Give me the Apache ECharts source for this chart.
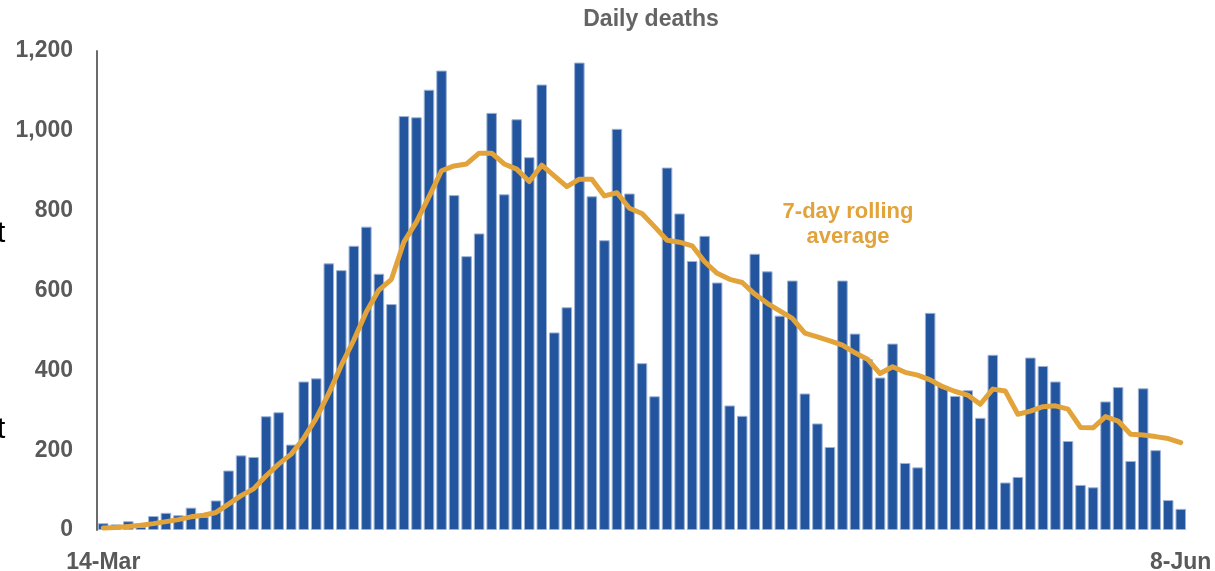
<!DOCTYPE html>
<html>
<head>
<meta charset="utf-8">
<script src="https://cdn.jsdelivr.net/npm/echarts@6/dist/echarts.min.js"></script>
<style>
html,body{margin:0;padding:0;background:#fff;}
#chart{width:1215px;height:571px;}
</style>
</head>
<body>
<div id="chart"></div>
<script>
// 87 days: 14-Mar to 8-Jun
const startLabel = '14-Mar';
const endLabel = '8-Jun';
const dailyDeaths = [
  17, 14, 22, 8, 35, 43, 37, 56, 33, 74,
  149, 187, 183, 285, 295, 214, 372, 380, 668, 651,
  712, 760, 642, 566, 1037, 1034, 1103, 1151, 839, 686,
  743, 1045, 841, 1029, 934, 1116, 495, 558, 1171, 836,
  726, 1005, 843, 418, 335, 908, 793, 674, 737, 620,
  312, 286, 692, 648, 537, 625, 342, 267, 208, 625,
  492, 428, 382, 467, 168, 157, 544, 361, 336, 350,
  281, 439, 119, 133, 432, 411, 372, 223, 113, 107,
  322, 358, 173, 355, 200, 75, 53
];
const rollingAvg = [
  5, 6, 9, 12, 16, 21, 26, 33, 37, 44,
  65, 86, 103, 136, 165, 190, 230, 280, 342, 413,
  476, 547, 601, 628, 722, 772, 835, 900, 912, 917,
  944, 944, 917, 904, 873, 914, 887, 860, 879, 879,
  837, 845, 806, 793, 760, 726, 721, 712, 672, 643,
  628, 620, 591, 568, 549, 530, 493, 484, 474, 463,
  444, 428, 392, 409, 395, 388, 376, 359, 347, 338,
  315, 353, 348, 290, 298, 309, 311, 303, 257, 256,
  284, 273, 240, 238, 234, 229, 219
];
const yTicks = { min: 0, max: 1200, interval: 200 };

// category labels: dates from 14-Mar
const months = ['Jan','Feb','Mar','Apr','May','Jun','Jul','Aug','Sep','Oct','Nov','Dec'];
const categories = dailyDeaths.map((_, i) => {
  const d = new Date(2020, 2, 14 + i);
  return d.getDate() + '-' + months[d.getMonth()];
});

const FONT = 'Liberation Sans, Arial, sans-serif';
const chart = echarts.init(document.getElementById('chart'), null, {renderer: 'canvas'});
chart.setOption({
  animation: false,
  backgroundColor: '#ffffff',
  grid: {left: 97, right: 28, top: 51, bottom: 41, containLabel: false, outerBoundsMode: 'none'},
  xAxis: {
    type: 'category',
    data: categories,
    axisLine: {show: false},
    axisTick: {show: false},
    axisLabel: {
      interval: (i) => i === 0 || i === categories.length - 1,
      formatter: (v, i) => (i === 0 ? startLabel : (i === categories.length - 1 ? endLabel : '')),
      margin: 21,
      fontFamily: FONT, fontWeight: 'bold', fontSize: 23, color: '#595959'
    },
    splitLine: {show: false}
  },
  yAxis: {
    type: 'value',
    min: yTicks.min, max: yTicks.max, interval: yTicks.interval,
    axisLine: {show: true, lineStyle: {color: '#6b6b6b', width: 2}},
    axisTick: {show: false},
    splitLine: {show: false},
    axisLabel: {
      margin: 24,
      formatter: (v) => v.toLocaleString('en-US'),
      fontFamily: FONT, fontWeight: 'bold', fontSize: 23, color: '#595959'
    }
  },
  series: [
    {
      type: 'bar',
      data: dailyDeaths,
      barCategoryGap: '16%',
      itemStyle: {color: '#22559E', borderColor: '#9db3d6', borderWidth: 1},
      z: 2
    },
    {
      type: 'line',
      data: rollingAvg,
      showSymbol: false,
      symbol: 'none',
      lineStyle: {color: '#E2A33A', width: 5, join: 'round', cap: 'round'},
      z: 3
    }
  ],
  graphic: [
    {type: 'text', x: 651, y: 8, style: {text: 'Daily deaths', align: 'center', verticalAlign: 'top', fill: '#646464', fontFamily: FONT, fontWeight: 'bold', fontSize: 23}},
    {type: 'text', x: 848, y: 199, style: {text: '7-day rolling\naverage', align: 'center', verticalAlign: 'top', fill: '#E2A33A', fontFamily: FONT, fontWeight: 'bold', fontSize: 22, lineHeight: 25}},
    {type: 'text', x: -3, y: 219, style: {text: 't', verticalAlign: 'top', fill: '#000', fontFamily: FONT, fontSize: 30}},
    {type: 'text', x: -3, y: 415, style: {text: 't', verticalAlign: 'top', fill: '#000', fontFamily: FONT, fontSize: 30}}
  ]
});
</script>
</body>
</html>
